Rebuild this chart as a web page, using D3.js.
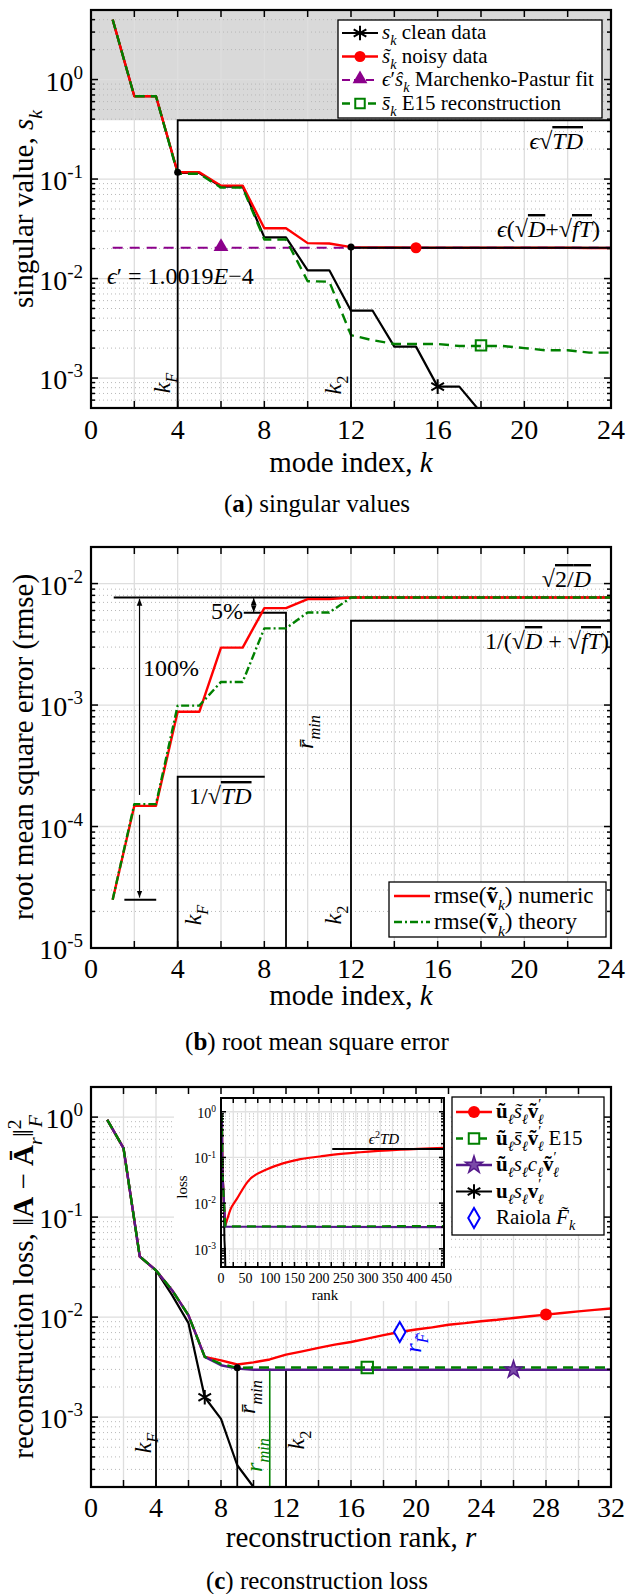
<!DOCTYPE html>
<html>
<head>
<meta charset="UTF-8" />
<script src="https://cdn.jsdelivr.net/npm/d3@7"></script>
<style>
  body { margin: 0; background: #fff; }
  svg { display: block; }
  text { font-family: "Liberation Serif", "Times New Roman", serif; }
</style>
</head>
<body>
<svg></svg>
<script>
// ---------- data ----------
// (a) singular values, k = 1..
const kClean = [1, 2, 3, 4, 5, 6, 7, 8, 9, 10, 11, 12, 13, 14, 15, 16, 17, 18, 19]
const sClean = [4.0, 0.68, 0.68, 0.115, 0.115, 0.084, 0.084, 0.0259, 0.0259, 0.0121, 0.0121, 0.00475, 0.00475, 0.00207, 0.00207, 0.00082, 0.00082, 0.00045, 0.00045]
const kAll = [1, 2, 3, 4, 5, 6, 7, 8, 9, 10, 11, 12, 13, 14, 15, 16, 17, 18, 19, 20, 21, 22, 23, 24]
const sNoisy = [4.0, 0.68, 0.68, 0.117, 0.117, 0.0858, 0.0858, 0.032, 0.032, 0.0227, 0.0225, 0.0207, 0.0205, 0.0205, 0.0204, 0.0204, 0.0204, 0.0204, 0.0204, 0.0204, 0.0204, 0.0204, 0.0203, 0.0203]
const sE15 = [4.0, 0.68, 0.68, 0.113, 0.113, 0.082, 0.082, 0.0247, 0.0247, 0.0094, 0.0093, 0.0027, 0.0024, 0.0022, 0.0022, 0.0022, 0.0021, 0.0021, 0.0021, 0.0020, 0.0019, 0.0019, 0.0018, 0.0018]
const mpK = [1, 24]
const mpVal = [0.0204, 0.0204]

// (b) rmse
const rmseNumeric = [2.5e-5, 1.48e-4, 1.48e-4, 8.8e-4, 8.8e-4, 2.97e-3, 2.97e-3, 6.28e-3, 6.28e-3, 7.44e-3, 7.44e-3, 7.67e-3, 7.67e-3, 7.67e-3, 7.67e-3, 7.67e-3, 7.67e-3, 7.67e-3, 7.67e-3, 7.67e-3, 7.67e-3, 7.67e-3, 7.67e-3, 7.67e-3]
const rmseTheory = [2.5e-5, 1.53e-4, 1.53e-4, 9.9e-4, 9.9e-4, 1.55e-3, 1.55e-3, 4.28e-3, 4.28e-3, 5.78e-3, 5.78e-3, 7.67e-3, 7.67e-3, 7.67e-3, 7.67e-3, 7.67e-3, 7.67e-3, 7.67e-3, 7.67e-3, 7.67e-3, 7.67e-3, 7.67e-3, 7.67e-3, 7.67e-3]

// (c) reconstruction loss, r = 1..32
const rAll = [1, 2, 3, 4, 5, 6, 7, 8, 9, 10, 11, 12, 13, 14, 15, 16, 17, 18, 19, 20, 21, 22, 23, 24, 25, 26, 27, 28, 29, 30, 31, 32]
const lossNoisy = [0.94, 0.49, 0.0404, 0.0293, 0.0185, 0.0104, 0.0040, 0.00369, 0.00336, 0.00353, 0.00377, 0.00421, 0.00455, 0.00493, 0.0053, 0.00564, 0.0061, 0.0066, 0.0071, 0.00752, 0.0079, 0.00839, 0.0087, 0.0091, 0.0094, 0.0098, 0.0102, 0.0106, 0.0110, 0.0114, 0.0118, 0.0122]
const lossE15 = [0.94, 0.49, 0.0404, 0.0293, 0.0185, 0.0104, 0.0040, 0.0034, 0.0031, 0.00313, 0.00313, 0.00313, 0.00313, 0.00313, 0.00313, 0.00313, 0.00313, 0.00313, 0.00313, 0.00313, 0.00313, 0.00313, 0.00313, 0.00313, 0.00313, 0.00313, 0.00313, 0.00313, 0.00313, 0.00313, 0.00313, 0.00313]
const lossCorr = [0.94, 0.49, 0.0404, 0.0293, 0.0185, 0.0104, 0.0040, 0.0033, 0.00305, 0.00298, 0.00298, 0.00298, 0.00298, 0.00298, 0.00298, 0.00298, 0.00298, 0.00298, 0.00298, 0.00298, 0.00298, 0.00298, 0.00298, 0.00298, 0.00298, 0.00298, 0.00298, 0.00298, 0.00298, 0.00298, 0.00298, 0.00298]
const rClean = [1, 2, 3, 4, 5, 6, 7, 8, 9, 10, 11]
const lossClean = [0.94, 0.49, 0.0404, 0.0293, 0.0165, 0.0087, 0.00158, 0.00096, 0.00033, 0.00020, 0.00012]

// inset: full rank range
const insetRank = [1, 2, 3, 4, 6, 9, 12, 19, 32, 55, 94, 128, 162, 202, 230, 284, 366, 455]
const insetNoisy = [0.94, 0.49, 0.0404, 0.0293, 0.0104, 0.00336, 0.0042, 0.0071, 0.0122, 0.030, 0.055, 0.075, 0.092, 0.105, 0.115, 0.13, 0.148, 0.162]
const insetFlatRank = [1, 2, 3, 4, 6, 9, 455]
const insetE15 = [0.94, 0.49, 0.0404, 0.0293, 0.0104, 0.0031, 0.00313]
const insetCorr = [0.94, 0.49, 0.0404, 0.0293, 0.0104, 0.00305, 0.00298]
const eps2TD = 0.153

// ---------- setup ----------
const width = 627
const height = 1594
const font = '"Liberation Serif", "Times New Roman", serif'
const red = '#ff0000', green = '#008000', mpPurple = '#8b008b', purple = '#55198b', blue = '#0000ff'

const svg = d3.select('svg')
  .attr('width', width).attr('height', height)
  .attr('viewBox', [0, 0, width, height])
  .style('font-family', font)

const defs = svg.append('defs')
defs.append('marker').attr('id', 'arrow')
  .attr('viewBox', '0 0 10 10').attr('refX', 10).attr('refY', 5)
  .attr('markerWidth', 7).attr('markerHeight', 7)
  .attr('markerUnits', 'userSpaceOnUse').attr('orient', 'auto-start-reverse')
  .append('path').attr('d', 'M0,1 L10,5 L0,9 Z').attr('fill', '#000')

// mixed-style text: parts are [text, flags, dx], flags: i italic, b bold, _ sub, ^ sup, o overline
function rich(sel, parts, size) {
  let shift = 0
  for (const [s, f = '', dx = 0] of parts) {
    const target = f.includes('_') ? 0.3 * size : f.includes('^') ? -0.42 * size : 0
    const ts = sel.append('tspan').text(s).attr('dy', target - shift)
    if (dx) ts.attr('dx', dx)
    shift = target
    if (f.includes('_') || f.includes('^')) ts.attr('font-size', 0.68 * size)
    if (f.includes('i')) ts.attr('font-style', 'italic')
    if (f.includes('b')) ts.attr('font-weight', 'bold')
    if (f.includes('o')) ts.attr('text-decoration', 'overline')
  }
  return sel
}
function label(g, x, y, parts, size, opts = {}) {
  const t = g.append('text').attr('font-size', size).attr('font-family', font)
    .attr('fill', opts.fill || '#000')
    .attr('text-anchor', opts.anchor || 'start')
  if (opts.rotate) t.attr('transform', `translate(${x},${y}) rotate(-90)`)
  else t.attr('x', x).attr('y', y)
  return rich(t, parts, size)
}

function logTicks(y) {
  const [d0, d1] = y.domain()
  const e0 = Math.floor(Math.log10(d0)), e1 = Math.ceil(Math.log10(d1))
  const major = [], minor = []
  for (let e = e0; e <= e1; e++) {
    const v = Math.pow(10, e)
    if (v >= d0 * 0.999 && v <= d1 * 1.001) major.push(v)
    for (let m = 2; m <= 9; m++) {
      const w = m * Math.pow(10, e)
      if (w > d0 && w < d1) minor.push(w)
    }
  }
  return { major, minor }
}

function grid(g, x, y, xt, gc = '#dedede') {
  const [x0, x1] = x.range(), [yb, yt] = y.range()
  const { major, minor } = logTicks(y)
  g.append('g').selectAll('line').data(minor).join('line')
    .attr('x1', x0).attr('x2', x1).attr('y1', y).attr('y2', y)
    .attr('stroke', '#b8b8b8').attr('stroke-width', 1).attr('stroke-dasharray', '1,3')
  g.append('g').selectAll('line').data(major).join('line')
    .attr('x1', x0).attr('x2', x1).attr('y1', y).attr('y2', y)
    .attr('stroke', gc).attr('stroke-width', 1.3)
  g.append('g').selectAll('line').data(xt).join('line')
    .attr('x1', x).attr('x2', x).attr('y1', yb).attr('y2', yt)
    .attr('stroke', gc).attr('stroke-width', 1.3)
}

function box(g, x, y, xt, o) {
  const [x0, x1] = x.range(), [yb, yt] = y.range()
  const { major, minor } = logTicks(y)
  const M = o.major || 7, m = o.minor || 4
  const t = g.append('g').attr('stroke', '#000').attr('stroke-width', 1.5)
  xt.forEach(v => {
    t.append('line').attr('x1', x(v)).attr('x2', x(v)).attr('y1', yb).attr('y2', yb - M)
    t.append('line').attr('x1', x(v)).attr('x2', x(v)).attr('y1', yt).attr('y2', yt + M)
  })
  major.forEach(v => {
    t.append('line').attr('x1', x0).attr('x2', x0 + M).attr('y1', y(v)).attr('y2', y(v))
    t.append('line').attr('x1', x1).attr('x2', x1 - M).attr('y1', y(v)).attr('y2', y(v))
  })
  minor.forEach(v => {
    t.append('line').attr('x1', x0).attr('x2', x0 + m).attr('y1', y(v)).attr('y2', y(v))
    t.append('line').attr('x1', x1).attr('x2', x1 - m).attr('y1', y(v)).attr('y2', y(v))
  })
  g.append('rect').attr('x', x0).attr('y', yt).attr('width', x1 - x0).attr('height', yb - yt)
    .attr('fill', 'none').attr('stroke', '#000').attr('stroke-width', o.frame || 2.2)
  // tick labels
  const fs = o.fs
  o.xLabels.forEach(v => {
    g.append('text').attr('x', x(v)).attr('y', yb + o.xOff).attr('text-anchor', 'middle')
      .attr('font-size', fs).attr('font-family', font).text(v)
  })
  major.forEach(v => {
    label(g, x0 - o.yGap, y(v) + o.yOff, [['10'], [String(Math.round(Math.log10(v))), '^']], fs, { anchor: 'end' })
  })
}

function clip(id, x, y) {
  const [x0, x1] = x.range(), [yb, yt] = y.range()
  defs.append('clipPath').attr('id', id).append('rect')
    .attr('x', x0).attr('y', yt).attr('width', x1 - x0).attr('height', yb - yt)
  return `url(#${id})`
}

function path(g, xs, ys, x, y, stroke, w, dash, curve) {
  const line = d3.line().x((d, i) => x(xs[i])).y(d => y(d))
  if (curve) line.curve(curve)
  return g.append('path').attr('d', line(ys)).attr('fill', 'none')
    .attr('stroke', stroke).attr('stroke-width', w)
    .attr('stroke-dasharray', dash || null).attr('stroke-linejoin', 'round')
}

function seg(g, pts, w = 1.8, stroke = '#000') {
  return g.append('path').attr('d', d3.line()(pts)).attr('fill', 'none')
    .attr('stroke', stroke).attr('stroke-width', w)
}

function marker(g, type, cx, cy, o) {
  if (type === 'circle') {
    return g.append('circle').attr('cx', cx).attr('cy', cy).attr('r', o.r)
      .attr('fill', o.fill).attr('stroke', o.stroke || 'none').attr('stroke-width', o.sw || 1)
  }
  return g.append('path').attr('transform', `translate(${cx},${cy})`)
    .attr('d', d3.symbol(type, o.size)())
    .attr('fill', o.fill || 'none').attr('stroke', o.stroke || 'none').attr('stroke-width', o.sw || 1)
}

const TICK = 28, AX = 29, ANN = 24, LEG = 21, CAP = 25

// ================= (a) singular values =================
{
  const x = d3.scaleLinear([0, 24], [91, 611])
  const y = d3.scaleLog([5e-4, 5], [408, 10])
  const xt = d3.range(0, 25, 2)
  const g = svg.append('g')
  g.append('rect').attr('x', 91).attr('y', 10).attr('width', 520).attr('height', y(0.39) - 10)
    .attr('fill', '#d9d9d9')
  grid(g, x, y, xt)
  const d = g.append('g').attr('clip-path', clip('clipA', x, y))
  path(d, kClean, sClean, x, y, '#000', 2.2)
  path(d, kAll, sNoisy, x, y, red, 2.4)
  path(d, mpK, mpVal, x, y, mpPurple, 2.2, '10,7')
  path(d, kAll, sE15, x, y, green, 2.4, '10,6')

  // annotation lines
  seg(g, [[x(4), y.range()[0]], [x(4), y(0.39)], [x(24), y(0.39)]])
  seg(g, [[x(12), y.range()[0]], [x(12), y(0.0207)]])
  seg(g, [[x(12), y(0.0204)], [x(24), y(0.0204)]])
  g.append('circle').attr('cx', x(4)).attr('cy', y(0.117)).attr('r', 3.5)
  g.append('circle').attr('cx', x(12)).attr('cy', y(0.0207)).attr('r', 3.5)

  marker(g, d3.symbolTriangle, x(6), y(0.0204) - 1, { size: 95, fill: mpPurple })
  marker(g, 'circle', x(15), y(0.0204), { r: 5.5, fill: red })
  marker(g, d3.symbolSquare, x(18), y(0.00213), { size: 110, stroke: green, sw: 2 })
  marker(g, d3.symbolAsterisk, x(16), y(0.00082), { size: 150, stroke: '#000', sw: 2 })

  label(g, 583, 149, [['ϵ', 'i'], ['√'], ['TD', 'io']], ANN, { anchor: 'end' })
  label(g, 600, 237, [['ϵ', 'i'], ['('], ['√'], ['D', 'io'], ['+'], ['√'], ['fT', 'io'], [')']], ANN, { anchor: 'end' })
  label(g, 107, 284, [['ϵ', 'i'], ['′'], [' = 1.0019'], ['E', 'i'], ['−4']], ANN)
  label(g, 170, 383, [['k', 'i'], ['F', '_i']], ANN, { rotate: true, anchor: 'middle' })
  label(g, 341, 385, [['k', 'i'], ['2', '_']], ANN, { rotate: true, anchor: 'middle' })

  // legend
  const lg = g.append('g')
  lg.append('rect').attr('x', 338).attr('y', 20).attr('width', 264).attr('height', 98)
    .attr('fill', '#fff').attr('stroke', '#000').attr('stroke-width', 1.3)
  const rows = [33, 56.5, 80, 103.5]
  seg(lg, [[342, rows[0]], [378, rows[0]]], 2.2)
  marker(lg, d3.symbolAsterisk, 360, rows[0], { size: 150, stroke: '#000', sw: 2 })
  seg(lg, [[342, rows[1]], [378, rows[1]]], 2.4, red)
  marker(lg, 'circle', 360, rows[1], { r: 5.5, fill: red })
  seg(lg, [[342, rows[2]], [378, rows[2]]], 2.2, mpPurple).attr('stroke-dasharray', '8,4')
  marker(lg, d3.symbolTriangle, 360, rows[2] - 1, { size: 95, fill: mpPurple })
  seg(lg, [[342, rows[3]], [378, rows[3]]], 2.4, green).attr('stroke-dasharray', '8,5')
  marker(lg, d3.symbolSquare, 360, rows[3], { size: 90, stroke: green, sw: 2, fill: '#fff' })
  label(lg, 382, rows[0] + 6, [['s', 'i'], ['k', '_i'], [' clean data']], LEG)
  label(lg, 382, rows[1] + 6, [['s̃', 'i'], ['k', '_i'], [' noisy data']], LEG)
  label(lg, 382, rows[2] + 6, [['ϵ', 'i'], ['′'], ['ŝ', 'i'], ['k', '_i'], [' Marchenko-Pastur fit']], LEG)
  label(lg, 382, rows[3] + 6, [['s̄', 'i'], ['k', '_i'], [' E15 reconstruction']], LEG)

  box(g, x, y, xt, { fs: TICK, xLabels: [0, 4, 8, 12, 16, 20, 24], xOff: 31, yGap: 8, yOff: 11 })
  label(g, 351, 472, [['mode index, '], ['k', 'i']], AX, { anchor: 'middle' })
  label(g, 33, 209, [['singular value, '], ['s', 'i'], ['k', '_i']], AX, { rotate: true, anchor: 'middle' })
  label(g, 317, 512, [['('], ['a', 'b'], [') singular values']], CAP, { anchor: 'middle' })
}

// ================= (b) rmse =================
{
  const x = d3.scaleLinear([0, 24], [91, 611])
  const y = d3.scaleLog([1e-5, 2e-2], [948, 547])
  const xt = d3.range(0, 25, 2)
  const g = svg.append('g')
  grid(g, x, y, xt)
  const yb = y.range()[0]

  // annotation lines
  seg(g, [[x(1.05), y(7.67e-3)], [x(24), y(7.67e-3)]], 2)
  seg(g, [[x(7.05), y(5.75e-3)], [x(9), y(5.75e-3)], [x(9), yb]])
  seg(g, [[x(8.02), y(2.57e-4)], [x(4), y(2.57e-4)], [x(4), yb]])
  seg(g, [[x(24), y(4.94e-3)], [x(12), y(4.94e-3)], [x(12), yb]])
  seg(g, [[x(1.54), y(2.5e-5)], [x(3.01), y(2.5e-5)]], 2)
  seg(g, [[x(2.24), y(1.82e-4)], [x(2.24), y(7.5e-3)]], 1.2).attr('marker-end', 'url(#arrow)')
  seg(g, [[x(2.24), y(1.25e-4)], [x(2.24), y(2.6e-5)]], 1.2).attr('marker-end', 'url(#arrow)')
  seg(g, [[x(7.51), y(7.2e-3)], [x(7.51), y(7.6e-3)]], 1).attr('marker-end', 'url(#arrow)')
  seg(g, [[x(7.51), y(6.2e-3)], [x(7.51), y(5.8e-3)]], 1).attr('marker-end', 'url(#arrow)')

  const d = g.append('g').attr('clip-path', clip('clipB', x, y))
  path(d, kAll, rmseNumeric, x, y, red, 2.4)
  path(d, kAll, rmseTheory, x, y, green, 2.4, '8,3,2,3')

  label(g, 591, 587, [['√'], ['2/', 'o'], ['D', 'io']], ANN, { anchor: 'end' })
  label(g, 243, 619, [['5%']], ANN, { anchor: 'end' })
  label(g, 143, 676, [['100%']], ANN)
  label(g, 189, 804, [['1/'], ['√'], ['TD', 'io']], ANN)
  label(g, 609, 649, [['1/('], ['√'], ['D', 'io'], [' + '], ['√'], ['fT', 'io'], [')']], ANN, { anchor: 'end' })
  label(g, 313, 732, [['r̄', 'i'], ['min', '_i']], ANN, { rotate: true, anchor: 'middle' })
  label(g, 201, 915, [['k', 'i'], ['F', '_i']], ANN, { rotate: true, anchor: 'middle' })
  label(g, 341, 915, [['k', 'i'], ['2', '_']], ANN, { rotate: true, anchor: 'middle' })

  // legend
  const lg = g.append('g')
  lg.append('rect').attr('x', 389).attr('y', 882).attr('width', 217).attr('height', 55)
    .attr('fill', '#fff').attr('stroke', '#000').attr('stroke-width', 1.3)
  seg(lg, [[394, 896], [430, 896]], 2.6, red)
  seg(lg, [[394, 922], [430, 922]], 2.6, green).attr('stroke-dasharray', '8,3,2,3')
  label(lg, 434, 903, [['rmse('], ['ṽ', 'b'], ['k', '_i'], [') numeric']], 23)
  label(lg, 434, 929, [['rmse('], ['ṽ', 'b'], ['k', '_i'], [') theory']], 23)

  box(g, x, y, xt, { fs: TICK, xLabels: [0, 4, 8, 12, 16, 20, 24], xOff: 30, yGap: 8, yOff: 11 })
  label(g, 351, 1005, [['mode index, '], ['k', 'i']], AX, { anchor: 'middle' })
  label(g, 33, 747, [['root mean square error (rmse)']], AX, { rotate: true, anchor: 'middle' })
  label(g, 317, 1050, [['('], ['b', 'b'], [') root mean square error']], CAP, { anchor: 'middle' })
}

// ================= (c) reconstruction loss =================
{
  const x = d3.scaleLinear([0, 32], [91, 611])
  const y = d3.scaleLog([2e-4, 2], [1487, 1087])
  const xt = d3.range(0, 33, 2)
  const g = svg.append('g')
  grid(g, x, y, xt)
  const yb = y.range()[0]

  // inset background
  g.append('rect').attr('x', 174).attr('y', 1088).attr('width', 276).attr('height', 213).attr('fill', '#fff')

  seg(g, [[x(4), y(0.0293)], [x(4), yb]])
  seg(g, [[x(9), y(0.00312)], [x(9), yb]])
  seg(g, [[x(12), y(0.00298)], [x(12), yb]])
  seg(g, [[x(11), y(0.00305)], [x(11), yb]], 1.6, green)

  const d = g.append('g').attr('clip-path', clip('clipC', x, y))
  path(d, rClean, lossClean, x, y, '#000', 2.2)
  path(d, rAll, lossNoisy, x, y, red, 2.4)
  path(d, rAll, lossCorr, x, y, purple, 2.4)
  path(d, rAll, lossE15, x, y, green, 2.4, '10,6')

  g.append('circle').attr('cx', x(9)).attr('cy', y(0.00312)).attr('r', 3.5)
  marker(g, 'circle', x(28), y(0.0106), { r: 6, fill: red })
  marker(g, d3.symbolSquare, x(17), y(0.00313), { size: 130, stroke: green, sw: 2 })
  marker(g, d3.symbolStar, x(26), y(0.00298), { size: 90, fill: '#7a4aa8', stroke: purple, sw: 1.5 })
  marker(g, d3.symbolDiamond, x(19), y(0.0071), { size: 115, stroke: blue, sw: 2, fill: '#fff' })
  marker(g, d3.symbolAsterisk, x(7), y(0.00158), { size: 150, stroke: '#000', sw: 2 })

  label(g, 151, 1443, [['k', 'i'], ['F', '_i']], ANN, { rotate: true, anchor: 'middle' })
  label(g, 255, 1397, [['r̄', 'i'], ['min', '_i']], ANN, { rotate: true, anchor: 'middle' })
  label(g, 262, 1455, [['r', 'i'], ['min', '_i']], ANN, { rotate: true, anchor: 'middle', fill: green })
  label(g, 304, 1440, [['k', 'i'], ['2', '_']], ANN, { rotate: true, anchor: 'middle' })
  label(g, 421, 1343, [['r', 'i'], ['F̃', '_i']], ANN, { rotate: true, anchor: 'middle', fill: blue })

  // ---- inset ----
  const xi = d3.scaleLinear([0, 455], [221, 444])
  const yi = d3.scaleLog([4e-4, 2], [1267, 1098])
  const xti = d3.range(0, 455, 25)
  const gi = g.append('g')
  grid(gi, xi, yi, xti, '#e2e2e2')
  const di = gi.append('g').attr('clip-path', clip('clipI', xi, yi))
  path(di, rClean, lossClean, xi, yi, '#000', 2)
  path(di, insetRank, insetNoisy, xi, yi, red, 2.2, null, d3.curveMonotoneX)
  path(di, insetFlatRank, insetCorr, xi, yi, purple, 2.2)
  path(di, insetFlatRank, insetE15, xi, yi, green, 2.2, '9,6')
  seg(gi, [[xi(227), yi(eps2TD)], [xi(455), yi(eps2TD)]], 1.8)
  label(gi, 384, 1144, [['ϵ', 'i'], ['2', '^'], ['TD', 'i']], 15, { anchor: 'middle' })
  box(gi, xi, yi, xti, { fs: 14, xLabels: d3.range(0, 451, 50), xOff: 16, yGap: 5, yOff: 6, major: 5, minor: 3, frame: 2 })
  label(gi, 325, 1300, [['rank']], 15, { anchor: 'middle' })
  label(gi, 187, 1187, [['loss']], 15, { rotate: true, anchor: 'middle' })

  // legend
  const lg = g.append('g')
  lg.append('rect').attr('x', 452).attr('y', 1097).attr('width', 152).attr('height', 138)
    .attr('fill', '#fff').attr('stroke', '#000').attr('stroke-width', 1.3)
  const rows = [1112, 1138.5, 1165, 1191.5, 1218]
  seg(lg, [[456, rows[0]], [492, rows[0]]], 2.4, red)
  marker(lg, 'circle', 474, rows[0], { r: 6, fill: red })
  seg(lg, [[456, rows[1]], [492, rows[1]]], 2.4, green).attr('stroke-dasharray', '7,5')
  marker(lg, d3.symbolSquare, 474, rows[1], { size: 110, stroke: green, sw: 2, fill: '#fff' })
  seg(lg, [[456, rows[2]], [492, rows[2]]], 2.4, purple)
  marker(lg, d3.symbolStar, 474, rows[2], { size: 90, fill: '#7a4aa8', stroke: purple, sw: 1.5 })
  seg(lg, [[456, rows[3]], [492, rows[3]]], 2.2, '#000')
  marker(lg, d3.symbolAsterisk, 474, rows[3], { size: 150, stroke: '#000', sw: 2 })
  marker(lg, d3.symbolDiamond, 474, rows[4], { size: 115, stroke: blue, sw: 2, fill: '#fff' })
  const L = 21
  label(lg, 496, rows[0] + 6, [['ũ', 'b'], ['ℓ', '_i'], ['s̃', 'i'], ['ℓ', '_i'], ['ṽ', 'b'], ['′', '^'], ['ℓ', '_i', -4]], L)
  label(lg, 496, rows[1] + 6, [['ũ', 'b'], ['ℓ', '_i'], ['s̄', 'i'], ['ℓ', '_i'], ['ṽ', 'b'], ['′', '^'], ['ℓ', '_i', -4], [' E15']], L)
  label(lg, 496, rows[2] + 6, [['ũ', 'b'], ['ℓ', '_i'], ['s', 'i'], ['ℓ', '_i'], ['c', 'i'], ['ℓ', '_i'], ['ṽ', 'b'], ['′', '^'], ['ℓ', '_i', -4]], L)
  label(lg, 496, rows[3] + 6, [['u', 'b'], ['ℓ', '_i'], ['s', 'i'], ['ℓ', '_i'], ['v', 'b'], ['′', '^'], ['ℓ', '_i', -4]], L)
  label(lg, 496, rows[4] + 6, [['Raiola '], ['F̃', 'i'], ['k', '_i']], L)

  box(g, x, y, xt, { fs: TICK, xLabels: [0, 4, 8, 12, 16, 20, 24, 28, 32], xOff: 30, yGap: 8, yOff: 11 })
  label(g, 351, 1547, [['reconstruction rank, '], ['r', 'i']], AX, { anchor: 'middle' })
  label(g, 33, 1287, [['reconstruction loss, ‖'], ['A', 'b'], [' − '], ['Ā', 'b'], ['r', '_i'], ['‖'], ['2', '^'], ['F', '_i', -8]], AX, { rotate: true, anchor: 'middle' })
  label(g, 317, 1589, [['('], ['c', 'b'], [') reconstruction loss']], CAP, { anchor: 'middle' })
}
</script>
</body>
</html>
